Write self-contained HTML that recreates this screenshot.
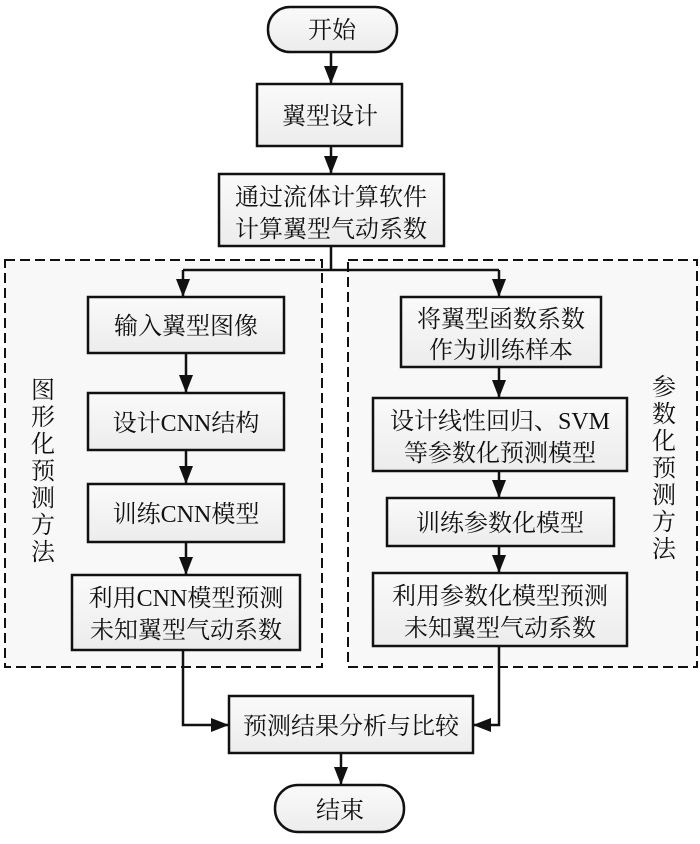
<!DOCTYPE html>
<html><head><meta charset="utf-8"><style>
html,body{margin:0;padding:0;background:#fff;}
svg text{font-family:"Liberation Serif","Noto Serif CJK SC",serif;font-size:24px;fill:#111;}
</style></head><body>
<svg width="700" height="839" viewBox="0 0 700 839" xmlns="http://www.w3.org/2000/svg">
<defs>
<linearGradient id="g" x1="0" y1="0" x2="0" y2="1"><stop offset="0" stop-color="#fafafa"/><stop offset="1" stop-color="#ececec"/></linearGradient>
<marker id="a" viewBox="0 0 10 10" refX="10" refY="5" markerWidth="6" markerHeight="6" markerUnits="userSpaceOnUse" orient="auto"><path d="M0,0 L10,5 L0,10 z" fill="#111"/></marker>
</defs>
<g fill="#f8f8f8" stroke="#111" stroke-width="2" stroke-dasharray="10,5">
<rect x="5" y="260" width="317" height="407"/>
<rect x="348" y="260" width="349" height="407"/>
</g>
<g fill="url(#g)" stroke="#111" stroke-width="2.5">
<rect x="268" y="7" width="129" height="45" rx="22"/>
<rect x="257" y="84" width="145" height="62"/>
<rect x="219" y="174" width="225" height="72"/>
<rect x="88" y="297" width="196" height="56"/>
<rect x="88" y="393" width="196" height="57"/>
<rect x="88" y="484" width="196" height="58"/>
<rect x="72" y="575" width="228" height="75"/>
<rect x="401" y="297" width="200" height="70"/>
<rect x="373" y="398" width="254" height="73"/>
<rect x="387" y="498" width="227" height="48"/>
<rect x="373" y="573" width="254" height="73"/>
<rect x="229" y="696" width="244" height="57"/>
<rect x="275" y="785" width="129" height="47" rx="23"/>
</g>
<g stroke="#111" stroke-width="2.5" fill="none">
<path d="M331 52 V84"/>
<path d="M331 146 V174"/>
<path d="M331 246 V270 M183 270 H499 M183 270 V297 M499 270 V297"/>
<path d="M186 353 V393"/>
<path d="M186 450 V484"/>
<path d="M186 542 V575"/>
<path d="M499 367 V398"/>
<path d="M499 471 V498"/>
<path d="M499 546 V573"/>
<path d="M183 650 V725 H229"/>
<path d="M499 646 V725 H473"/>
<path d="M341 753 V785"/>
</g>
<g fill="#111">
<path d="M324 66 L338 66 L331 84 z"/>
<path d="M324 156 L338 156 L331 174 z"/>
<path d="M176 279 L190 279 L183 297 z"/>
<path d="M492 279 L506 279 L499 297 z"/>
<path d="M179 375 L193 375 L186 393 z"/>
<path d="M179 466 L193 466 L186 484 z"/>
<path d="M179 557 L193 557 L186 575 z"/>
<path d="M492 380 L506 380 L499 398 z"/>
<path d="M492 480 L506 480 L499 498 z"/>
<path d="M492 555 L506 555 L499 573 z"/>
<path d="M211 718 L211 732 L229 725 z"/>
<path d="M491 718 L491 732 L473 725 z"/>
<path d="M334 767 L348 767 L341 785 z"/>
</g>
<g text-anchor="middle">
<text x="332" y="38">开始</text>
<text x="330" y="124">翼型设计</text>
<text x="331" y="205">通过流体计算软件</text>
<text x="331" y="237">计算翼型气动系数</text>
<text x="186" y="334">输入翼型图像</text>
<text x="186" y="431">设计CNN结构</text>
<text x="186" y="522">训练CNN模型</text>
<text x="186" y="606">利用CNN模型预测</text>
<text x="186" y="638">未知翼型气动系数</text>
<text x="501" y="327">将翼型函数系数</text>
<text x="501" y="358">作为训练样本</text>
<text x="500" y="429">设计线性回归、SVM</text>
<text x="500" y="461">等参数化预测模型</text>
<text x="500" y="531">训练参数化模型</text>
<text x="500" y="604">利用参数化模型预测</text>
<text x="500" y="636">未知翼型气动系数</text>
<text x="351" y="734">预测结果分析与比较</text>
<text x="340" y="818">结束</text>
</g>
<g text-anchor="middle">
<text x="43" y="398">图</text><text x="43" y="425">形</text><text x="43" y="452">化</text><text x="43" y="479">预</text><text x="43" y="506">测</text><text x="43" y="533">方</text><text x="43" y="560">法</text>
<text x="664" y="395">参</text><text x="664" y="422">数</text><text x="664" y="449">化</text><text x="664" y="476">预</text><text x="664" y="503">测</text><text x="664" y="530">方</text><text x="664" y="557">法</text>
</g>
</svg>
</body></html>
